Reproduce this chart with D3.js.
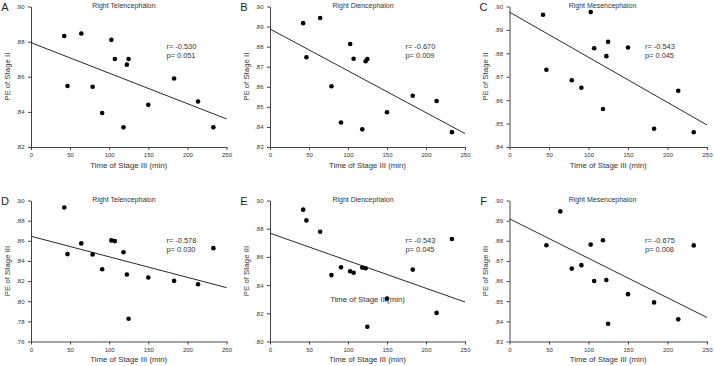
<!DOCTYPE html>
<html>
<head>
<meta charset="utf-8">
<script src="https://cdnjs.cloudflare.com/ajax/libs/d3/7.8.5/d3.min.js"></script>
<style>
body { margin: 0; background: #fff; }
svg { display: block; font-family: Arial, "Liberation Sans", sans-serif; }
</style>
</head>
<body>
<svg id="chart" width="714" height="366"></svg>
<script>
// time of stage III (min), one value per subject
var stageTime = [42.5, 46.7, 64.3, 78.8, 91, 102.8, 107.2, 118.3, 122.6, 124.8, 150, 183, 213.6, 233.2];
var timeTicks = [0, 50, 100, 150, 200, 250];

// PE values, same subject order (null = not shown)
var peTel2 = [0.8832, 0.8547, 0.8846, 0.8543, 0.8394, 0.8810, 0.8701, 0.8312, 0.8669, 0.8701, 0.8440, 0.8590, 0.8459, 0.8312];
var peDien2 = [0.8917, 0.8747, 0.8943, 0.8603, 0.8422, 0.8813, 0.8740, 0.8388, 0.8727, 0.8738, 0.8473, 0.8555, 0.8529, 0.8374];
var peMes2 = [0.8965, 0.8730, null, 0.8685, 0.8653, 0.8976, 0.8822, 0.8562, 0.8788, 0.8849, 0.8825, 0.8478, 0.8640, 0.8463];
var peTel3 = [0.8930, 0.8468, 0.8574, 0.8465, 0.8318, 0.8604, 0.8597, 0.8486, 0.8265, 0.7826, 0.8235, 0.8202, 0.8168, 0.8527];
var peDien3 = [0.8935, 0.8859, 0.8778, 0.8471, 0.8526, 0.8498, 0.8488, 0.8524, 0.8519, 0.8105, 0.8304, 0.8510, 0.8203, 0.8727];
var peMes3 = [null, 0.8778, 0.8946, 0.8662, 0.8679, 0.8781, 0.8600, 0.8803, 0.8605, 0.8388, 0.8535, 0.8494, 0.8410, 0.8777];

// fitted line, value at time 0 and at time 250
var fitTel2 = [0.8794, 0.8360];
var fitDien2 = [0.8888, 0.8367];
var fitMes2 = [0.8976, 0.8494];
var fitTel3 = [0.8645, 0.8135];
var fitDien3 = [0.8768, 0.8280];
var fitMes3 = [0.8909, 0.8419];

// y tick labels
var ticksA = [0.82, 0.84, 0.86, 0.88, 0.90];
var ticksB = [0.83, 0.84, 0.85, 0.86, 0.87, 0.88, 0.89, 0.90];
var ticksC = [0.84, 0.85, 0.86, 0.87, 0.88, 0.89, 0.90];
var ticksD = [0.76, 0.78, 0.80, 0.82, 0.84, 0.86, 0.88, 0.90];
var ticksE = [0.80, 0.82, 0.84, 0.86, 0.88, 0.90];
var ticksF = [0.83, 0.84, 0.85, 0.86, 0.87, 0.88, 0.89, 0.90];

var panels = [
    {letter: 'A', title: 'Right Telencephalon', yLabel: 'PE of Stage II', pe: peTel2, fit: fitTel2, ticks: ticksA, r: 'r= -0.530', p: 'p= 0.051'},
    {letter: 'B', title: 'Right Diencephalon', yLabel: 'PE of Stage II', pe: peDien2, fit: fitDien2, ticks: ticksB, r: 'r= -0.670', p: 'p= 0.009'},
    {letter: 'C', title: 'Right Mesencephalon', yLabel: 'PE of Stage II', pe: peMes2, fit: fitMes2, ticks: ticksC, r: 'r= -0.543', p: 'p= 0.045'},
    {letter: 'D', title: 'Right Telencephalon', yLabel: 'PE of Stage III', pe: peTel3, fit: fitTel3, ticks: ticksD, r: 'r= -0.578', p: 'p= 0.030'},
    {letter: 'E', title: 'Right Diencephalon', yLabel: 'PE of Stage III', pe: peDien3, fit: fitDien3, ticks: ticksE, r: 'r= -0.543', p: 'p= 0.045'},
    {letter: 'F', title: 'Right Mesencephalon', yLabel: 'PE of Stage III', pe: peMes3, fit: fitMes3, ticks: ticksF, r: 'r= -0.675', p: 'p= 0.008'}
];

var colX = [31, 270, 509.5], colW = [195.5, 195, 197.5];
var rowTop = [6.5, 200.5], rowBottom = [147, 341.5];
var textColor = '#333';

var svg = d3.select('#chart');
var fmtY = function(d) { return d3.format('.2f')(d).replace(/^0/, ''); };

function drawPanel(p, col, row) {
    var left = colX[col], right = colX[col] + colW[col];
    var top = rowTop[row], bottom = rowBottom[row];
    var x = d3.scaleLinear().domain([0, 250]).range([left, right]);
    var y = d3.scaleLinear().domain([p.ticks[0], p.ticks[p.ticks.length - 1]]).range([bottom, top]);
    var g = svg.append('g');

    // axes
    var xa = g.append('g').attr('transform', 'translate(0,' + bottom + ')')
        .call(d3.axisBottom(x).tickValues(timeTicks).tickSize(3).tickSizeOuter(0).tickPadding(3));
    var ya = g.append('g').attr('transform', 'translate(' + left + ',0)')
        .call(d3.axisLeft(y).tickValues(p.ticks).tickFormat(fmtY).tickSize(3).tickSizeOuter(0).tickPadding(3.5));
    [xa, ya].forEach(function(a) {
        a.select('.domain').attr('stroke', '#444');
        a.selectAll('.tick line').attr('stroke', '#444');
        a.selectAll('.tick text').attr('fill', textColor).style('font-size', '6px');
    });

    // fitted line
    g.append('line')
        .attr('x1', x(0)).attr('y1', y(p.fit[0]))
        .attr('x2', x(250)).attr('y2', y(p.fit[1]))
        .attr('stroke', '#111').attr('stroke-width', 0.9);

    // points
    var pts = stageTime.map(function(t, i) { return {t: t, v: p.pe[i]}; })
        .filter(function(d) { return d.v != null; });
    g.selectAll('circle').data(pts).enter().append('circle')
        .attr('cx', function(d) { return x(d.t); })
        .attr('cy', function(d) { return y(d.v); })
        .attr('r', 2.3).attr('fill', '#000');

    // texts
    var mid = (left + right) / 2;
    g.append('text').attr('x', left + 93).attr('y', top - 1.5)
        .attr('text-anchor', 'middle').attr('dominant-baseline', 'central')
        .attr('fill', textColor).style('font-size', '7px').text(p.title);
    g.append('text').attr('x', mid).attr('y', bottom + 18)
        .attr('text-anchor', 'middle').attr('dominant-baseline', 'central')
        .attr('fill', textColor).style('font-size', '7.8px').text('Time of Stage III (min)');
    g.append('text').attr('transform', 'translate(' + (left - 24) + ',' + ((top + bottom) / 2) + ') rotate(-90)')
        .attr('text-anchor', 'middle').attr('dominant-baseline', 'central')
        .attr('fill', textColor).style('font-size', '7.8px').text(p.yLabel);
    g.append('text').attr('x', left - 26).attr('y', top)
        .attr('text-anchor', 'middle').attr('dominant-baseline', 'central')
        .attr('fill', '#222').style('font-size', '11px').text(p.letter);
    g.append('text').attr('x', left + 135.5).attr('y', top + 40)
        .attr('dominant-baseline', 'central')
        .attr('fill', textColor).style('font-size', '7.4px').text(p.r);
    g.append('text').attr('x', left + 135.5).attr('y', top + 49)
        .attr('dominant-baseline', 'central')
        .attr('fill', textColor).style('font-size', '7.4px').text(p.p);
    return g;
}

panels.forEach(function(p, i) {
    drawPanel(p, i % 3, Math.floor(i / 3));
});

// stray axis caption sitting inside panel E
svg.append('text').attr('x', 367.5).attr('y', 299)
    .attr('text-anchor', 'middle').attr('dominant-baseline', 'central')
    .attr('fill', textColor).style('font-size', '7.8px').text('Time of Stage III(min)');
</script>
</body>
</html>
